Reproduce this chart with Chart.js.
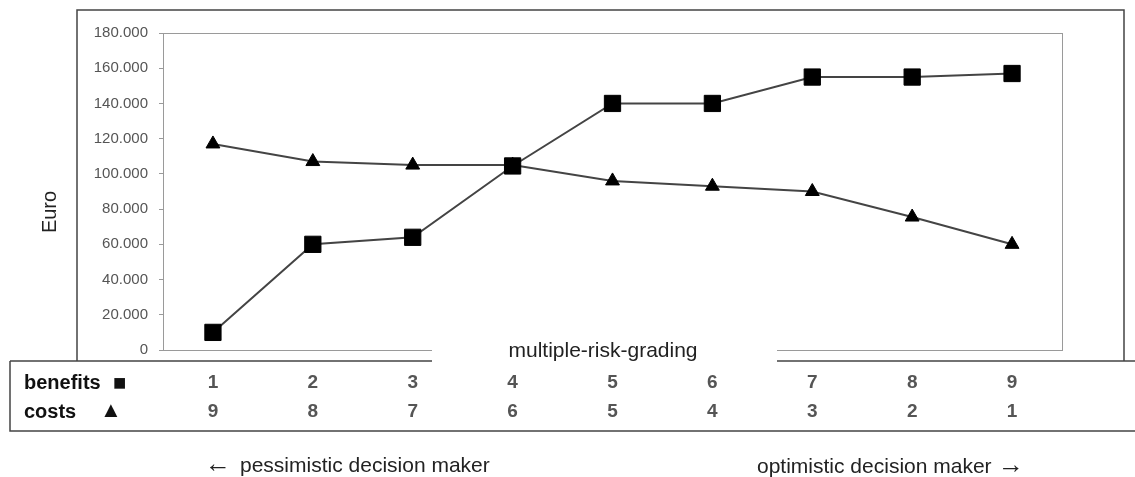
<!DOCTYPE html>
<html>
<head>
<meta charset="utf-8">
<script src="https://cdn.jsdelivr.net/npm/chart.js@4.4.1/dist/chart.umd.min.js"></script>
<style>
  html, body { margin: 0; padding: 0; background: #fff; }
  #wrap { width: 1135px; height: 477px; }
</style>
</head>
<body>
<div id="wrap"><canvas id="riskChart" width="1135" height="477"></canvas></div>
<script>
const grading = ['1', '2', '3', '4', '5', '6', '7', '8', '9'];
const costGrading = ['9', '8', '7', '6', '5', '4', '3', '2', '1'];
const benefits = [10000, 60000, 64000, 104500, 140000, 140000, 155000, 155000, 157000];
const costs = [117000, 107000, 105000, 105000, 96000, 93000, 90000, 75500, 60000];
const yTicks = [0, 20000, 40000, 60000, 80000, 100000, 120000, 140000, 160000, 180000];

const FONT = "'Liberation Sans', Arial, sans-serif";

function euro(v) {
    return String(v).replace(/\B(?=(\d{3})+(?!\d))/g, '.');
}

const framePlugin = {
    id: 'frame',
    afterDraw(chart) {
        const ctx = chart.ctx;
        const a = chart.chartArea;
        const x = chart.scales.x;
        ctx.save();

        // plot area border
        ctx.strokeStyle = '#9a9a9a';
        ctx.lineWidth = 1;
        ctx.strokeRect(a.left + 0.5, a.top + 0.5, a.right - a.left, a.bottom - a.top);

        // outer frame and table
        ctx.strokeStyle = '#444';
        ctx.lineWidth = 1.5;
        ctx.beginPath();
        ctx.moveTo(77, 361);
        ctx.lineTo(77, 10);
        ctx.lineTo(1124, 10);
        ctx.lineTo(1124, 361);
        ctx.moveTo(10, 361);
        ctx.lineTo(1135, 361);
        ctx.moveTo(10, 361);
        ctx.lineTo(10, 431);
        ctx.lineTo(1135, 431);
        ctx.stroke();

        // axis title box
        ctx.fillStyle = '#fff';
        ctx.fillRect(432, 340, 345, 30);
        ctx.fillStyle = '#222';
        ctx.font = '21px ' + FONT;
        ctx.textAlign = 'center';
        ctx.textBaseline = 'middle';
        ctx.fillText('multiple-risk-grading', 603, 351);

        // y title
        ctx.save();
        ctx.translate(50, 212);
        ctx.rotate(-Math.PI / 2);
        ctx.font = '20px ' + FONT;
        ctx.fillText('Euro', 0, 0);
        ctx.restore();

        // table rows
        ctx.textAlign = 'left';
        ctx.fillStyle = '#111';
        ctx.font = 'bold 20px ' + FONT;
        ctx.fillText('benefits', 24, 383);
        ctx.fillText('costs', 24, 412);
        ctx.font = '22px ' + FONT;
        ctx.fillText('\u25A0', 113, 384);
        ctx.fillText('\u25B2', 100, 411);

        ctx.textAlign = 'center';
        ctx.fillStyle = '#555';
        ctx.font = 'bold 19px ' + FONT;
        grading.forEach((g, i) => {
            const px = x.getPixelForValue(i);
            ctx.fillText(g, px, 383);
            ctx.fillText(costGrading[i], px, 412);
        });

        // bottom notes
        ctx.fillStyle = '#222';
        ctx.textAlign = 'left';
        ctx.font = '21px ' + FONT;
        ctx.fillText('pessimistic decision maker', 240, 466);
        ctx.fillText('optimistic decision maker', 757, 467);
        ctx.font = '26px ' + FONT;
        ctx.fillText('\u2190', 205, 465);
        ctx.fillText('\u2192', 998, 466);

        ctx.restore();
    }
};

new Chart(document.getElementById('riskChart').getContext('2d'), {
    type: 'line',
    data: {
        labels: grading,
        datasets: [{
            label: 'benefits',
            data: benefits,
            borderColor: '#444',
            borderWidth: 2,
            pointStyle: 'rect',
            pointRadius: 11.5,
            pointBackgroundColor: '#000',
            pointBorderColor: '#000',
            pointBorderWidth: 1,
            tension: 0
        }, {
            label: 'costs',
            data: costs,
            borderColor: '#444',
            borderWidth: 2,
            pointStyle: 'triangle',
            pointRadius: 8,
            pointBackgroundColor: '#000',
            pointBorderColor: '#000',
            pointBorderWidth: 1,
            tension: 0
        }]
    },
    options: {
        responsive: false,
        animation: false,
        layout: {
            padding: { left: 0, top: 33, right: 73, bottom: 127 }
        },
        plugins: {
            legend: { display: false },
            tooltip: { enabled: false }
        },
        scales: {
            x: {
                type: 'category',
                offset: true,
                display: false
            },
            y: {
                min: 0,
                max: 180000,
                afterFit: s => { s.width = 163; },
                afterBuildTicks: s => { s.ticks = yTicks.map(v => ({ value: v })); },
                grid: {
                    drawOnChartArea: false,
                    drawTicks: true,
                    tickLength: 4,
                    color: '#9a9a9a'
                },
                border: { color: '#9a9a9a' },
                ticks: {
                    padding: 11,
                    color: '#555',
                    font: { family: FONT, size: 15 },
                    callback: v => euro(v)
                }
            }
        }
    },
    plugins: [framePlugin]
});
</script>
</body>
</html>
